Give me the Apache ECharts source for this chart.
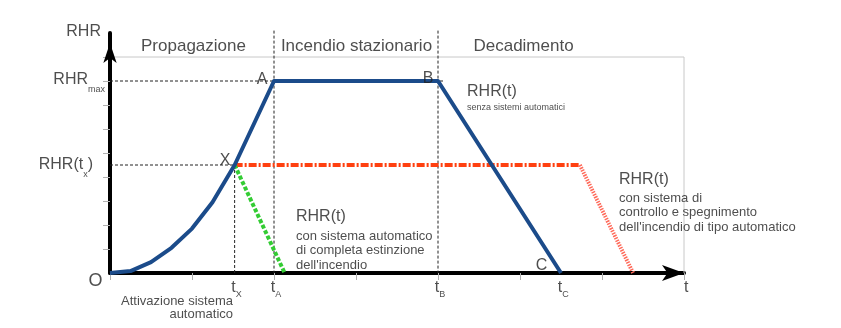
<!DOCTYPE html>
<html>
<head>
<meta charset="utf-8">
<script src="https://cdn.jsdelivr.net/npm/echarts@6/dist/echarts.min.js"></script>
<style>
html,body{margin:0;padding:0;background:#fff;}
#chart{width:841px;height:328px;}
</style>
</head>
<body>
<div id="chart"></div>
<script>
// ---- data (time in arbitrary units, RHR in arbitrary units) ----
var tX = 1.52, tA = 2, tB = 4, tC = 5.5;
var rhrMax = 8, rhrX = 4.5;
var curveT   = [0, 0.25, 0.5, 0.75, 1, 1.25, tX, tA, tB, tC];
var curveRHR = [0, 0.08, 0.45, 1.05, 1.85, 2.95, rhrX, rhrMax, rhrMax, 0];
var redT     = [tX, 5.73];
var redRHR   = [rhrX, rhrX];
var redDecT  = [5.73, 6.38];
var redDecRHR= [rhrX, 0];
var greenT   = [tX, 2.13];
var greenRHR = [rhrX, 0];
var phaseNames = ['Propagazione', 'Incendio stazionario', 'Decadimento'];
var xTickLabels = ['X', 'A', 'B', 'C'];
var xTickValues = [tX, tA, tB, tC];

function pairs(xs, ys){ return xs.map(function(x,i){ return [x, ys[i]]; }); }

var FONT = "'Liberation Sans', Arial, sans-serif";
var rich = {
  a: {fontSize: 16, lineHeight: 16, verticalAlign: 'top', color: '#222', fontFamily: FONT},
  s: {fontSize: 9, lineHeight: 9, verticalAlign: 'top', padding: [13,0,0,0], color: '#222', fontFamily: FONT},
  ts: {fontSize: 9, lineHeight: 9, verticalAlign: 'top', padding: [11,0,0,0], color: '#222', fontFamily: FONT},
  h: {fontSize: 16, color: '#222', fontFamily: FONT},
  b: {fontSize: 13, lineHeight: 14.5, color: '#222', fontFamily: FONT},
  n: {fontSize: 9, lineHeight: 12, color: '#222', fontFamily: FONT}
};

function ann(x, y, text, align, vAlign, extra){
  var lab = {show: true, position: 'inside', formatter: text, align: align, verticalAlign: vAlign,
             color: '#222', fontFamily: FONT, rich: rich};
  if (extra) for (var k in extra) lab[k] = extra[k];
  return {value: [x, y], label: lab};
}

var annotations = [
  ann(-0.11, 10.04, 'RHR', 'right', 'middle', {fontSize: 16}),
  ann(-0.061, 8.375, '{a|RHR}{s|max}', 'right', 'top'),
  ann(-0.207, 4.83, '{a|RHR(t}{s|x}{a|)}', 'right', 'top'),
  ann(-0.177, -0.354, 'O', 'center', 'middle', {fontSize: 18}),
  ann(7.0, -0.267, '{a|t}', 'left', 'top'),
  ann(1.5, -0.885, 'Attivazione sistema\nautomatico', 'right', 'top', {fontSize: 13, lineHeight: 13.5}),
  ann(1.018, 9.46, phaseNames[0], 'center', 'middle', {fontSize: 17}),
  ann(3.006, 9.46, phaseNames[1], 'center', 'middle', {fontSize: 17}),
  ann(5.043, 9.46, phaseNames[2], 'center', 'middle', {fontSize: 17}),
  ann(1.854, 8.04, 'A', 'center', 'middle', {fontSize: 16}),
  ann(3.878, 8.08, 'B', 'center', 'middle', {fontSize: 16}),
  ann(1.402, 4.667, 'X', 'center', 'middle', {fontSize: 16}),
  ann(5.262, 0.29, 'C', 'center', 'middle', {fontSize: 16}),
  ann(4.354, 7.958, '{h|RHR(t)}\n{n|senza sistemi automatici}', 'left', 'top', {}),
  ann(2.268, 2.823, '{h|RHR(t)}\n{b|con sistema automatico}\n{b|di completa estinzione}\n{b|dell\'incendio}', 'left', 'top', {}),
  ann(6.207, 4.365, '{h|RHR(t)}\n{b|con sistema di}\n{b|controllo e spegnimento}\n{b|dell\'incendio di tipo automatico}', 'left', 'top', {})
];
annotations[13].label.rich = Object.assign({}, rich, {h: {fontSize: 16, lineHeight: 20, color: '#222', fontFamily: FONT}});
annotations[14].label.rich = Object.assign({}, rich, {h: {fontSize: 16, lineHeight: 23.5, color: '#222', fontFamily: FONT}});
annotations[15].label.rich = Object.assign({}, rich, {h: {fontSize: 16, lineHeight: 22.5, color: '#222', fontFamily: FONT}});

xTickValues.forEach(function(v, i){
  annotations.push(ann(v - 0.04, -0.267, '{a|t}{ts|' + xTickLabels[i] + '}', 'left', 'top'));
});

var dashStyle = {color: '#222', width: 1, type: [3, 2]};
function guide(d){ return {type: 'line', data: d, symbol: 'none', silent: true, clip: false, z: 1, lineStyle: dashStyle}; }

var chart = echarts.init(document.getElementById('chart'), null, {renderer: 'canvas'});
chart.setOption({
  animation: false,
  backgroundColor: '#fff',
  grid: {left: 110, right: 157, top: 33, bottom: 55, containLabel: false},
  xAxis: {
    type: 'value', min: 0, max: 7, interval: 1,
    axisLine: {show: true, onZero: false, lineStyle: {color: '#000', width: 4},
               symbol: ['none', 'arrow'], symbolSize: [12, 22], symbolOffset: [0, 0]},
    axisTick: {show: true, length: 7, lineStyle: {color: '#b0b0b0', width: 1}},
    axisLabel: {show: false}, splitLine: {show: false}
  },
  yAxis: {
    type: 'value', min: 0, max: 10, interval: 1,
    axisLine: {show: true, onZero: false, lineStyle: {color: '#000', width: 4},
               symbol: ['none', 'arrow'], symbolSize: [10, 20], symbolOffset: [0, -10]},
    axisTick: {show: true, length: 7, customValues: [1,2,3,4,5,6,7,8,9], lineStyle: {color: '#b0b0b0', width: 1}},
    axisLabel: {show: false}, splitLine: {show: false}
  },
  series: [
    {type: 'line', data: [[0, 9], [7, 9], [7, 0]], symbol: 'none', silent: true, z: 0,
     lineStyle: {color: '#c8c8c8', width: 1}},
    guide([[0, rhrMax], [4.08, rhrMax]]),
    guide([[0, rhrX], [tX, rhrX]]),
    guide([[tX, rhrX], [tX, 0]]),
    guide([[tA, 10.1], [tA, 0]]),
    guide([[tB, 10.1], [tB, 0]]),
    {type: 'line', data: pairs(redT, redRHR), symbol: 'none', silent: true, z: 2,
     lineStyle: {color: '#ff4010', width: 4, type: [8, 2, 2, 2]}},
    {type: 'line', data: pairs(redDecT, redDecRHR), symbol: 'none', silent: true, z: 2,
     lineStyle: {color: '#ff6a5a', width: 4, type: [1.5, 1.2]}},
    {type: 'line', data: pairs(greenT, greenRHR), symbol: 'none', silent: true, z: 3,
     lineStyle: {color: '#33cc33', width: 4, type: [4, 2]}},
    {type: 'line', data: pairs(curveT, curveRHR), symbol: 'none', silent: true, z: 4,
     lineStyle: {color: '#1b4b8a', width: 4, join: 'round'}},
    {type: 'scatter', data: annotations, symbol: 'circle', symbolSize: 1, silent: true, z: 5, clip: false,
     itemStyle: {color: 'rgba(0,0,0,0)'}}
  ]
});
</script>
</body>
</html>
